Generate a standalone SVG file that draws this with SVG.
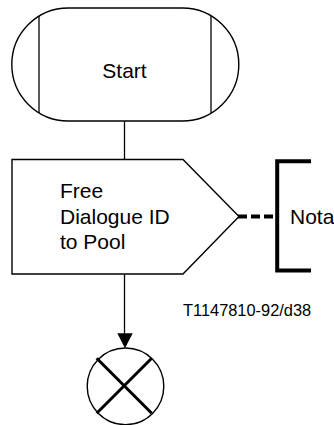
<svg xmlns="http://www.w3.org/2000/svg" width="334" height="425" viewBox="0 0 334 425">
<style>
.t{font-family:"Liberation Sans",Arial,sans-serif;font-size:21px;fill:#000}
.s{font-family:"Liberation Sans",Arial,sans-serif;font-size:16.4px;fill:#000}
.o{fill:#fff;stroke:#000;stroke-width:1.4}
.thin{fill:none;stroke:#000;stroke-width:1.3}
.thick{fill:none;stroke:#000;stroke-width:4}
</style>
<g id="connectors">
<line x1="124.5" y1="121" x2="124.5" y2="159.5" class="thin"/>
<line x1="124.5" y1="274" x2="124.5" y2="333.3" class="thin"/>
<path d="M117.3,333.3 L132.7,333.3 L125,348.3 Z" fill="#000"/>
<line x1="238" y1="216.5" x2="277" y2="216.5" class="thick" stroke-dasharray="9,4"/>
</g>
<g id="start">
<rect x="11.8" y="8" width="227" height="113" rx="56.5" ry="56.5" class="o"/>
<line x1="39" y1="16" x2="39" y2="113" class="thin"/>
<line x1="211" y1="16" x2="211" y2="113" class="thin"/>
<text x="124.5" y="78" class="t" text-anchor="middle">Start</text>
</g>
<g id="task">
<path d="M12,159.5 L183,159.5 L239,216.5 L183,274 L12,274 Z" class="o" stroke-width="1.2"/>
<text x="60" y="198" class="t">Free</text>
<text x="60" y="224" class="t">Dialogue ID</text>
<text x="60" y="249" class="t">to Pool</text>
</g>
<g id="note">
<path d="M311,161.3 L277.2,161.3 L277.2,270.5 L311,270.5" class="thick"/>
<text x="290" y="224" class="t">Nota</text>
</g>
<g id="stop">
<circle cx="125.5" cy="386.3" r="38.3" class="o"/>
<line x1="96.7" y1="358.3" x2="151.7" y2="413.3" stroke="#000" stroke-width="3"/>
<line x1="151.7" y1="358.3" x2="96.7" y2="413.3" stroke="#000" stroke-width="3"/>
</g>
<text x="183" y="316.3" class="s">T1147810-92/d38</text>
</svg>
